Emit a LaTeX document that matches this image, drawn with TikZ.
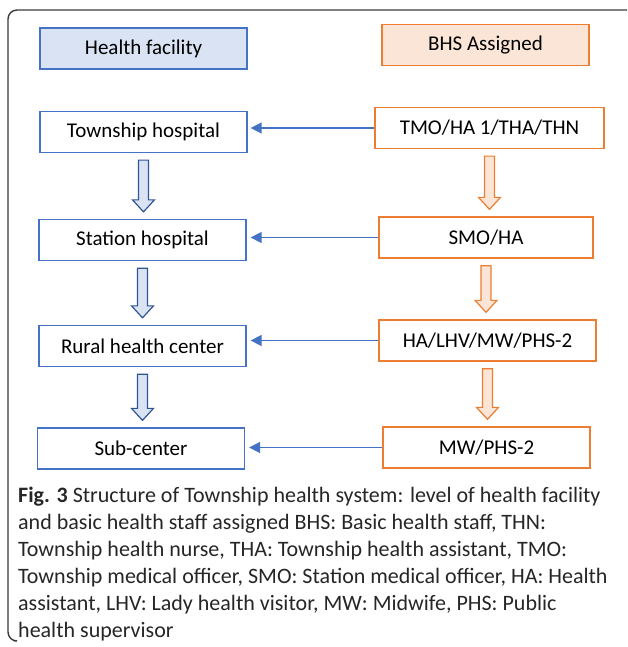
\documentclass[tikz,border=0pt]{standalone}
\usepackage{fontspec}
\setmainfont{Carlito}
\usetikzlibrary{calc,arrows.meta}

\definecolor{facblue}{HTML}{4472C4}
\definecolor{facfill}{HTML}{DAE3F3}
\definecolor{facdark}{HTML}{2F5597}
\definecolor{bhsorange}{HTML}{ED7D31}
\definecolor{bhsfill}{HTML}{FBE5D6}
\definecolor{framegray}{HTML}{3A3A3A}

\tikzset{
  facbox/.style={draw=facblue, line width=1.3pt, minimum width=207pt, minimum height=41pt,
    inner sep=0pt, font=\fontsize{21}{23}\selectfont},
  bhsbox/.style={draw=bhsorange, line width=1.3pt, minimum height=41pt,
    inner sep=0pt, font=\fontsize{21}{23}\selectfont},
  link/.style={draw=facblue, line width=1.6pt, -{Triangle[length=11pt,width=11pt]}},
  facarrow/.style={draw=facdark, fill=facfill, line width=1.2pt, line join=miter},
  bhsarrow/.style={draw=bhsorange, fill=bhsfill, line width=1.2pt, line join=miter},
}

% hollow block arrow pointing down: #1 style, #2 upper node, #3 lower node
\newcommand{\blockdown}[3]{%
  \path let \p1=(#2.south), \p2=(#3.north) in
    [#1] (\x1-5pt,\y1-7pt) -- (\x1+5pt,\y1-7pt) -- (\x1+5pt,\y2+19pt)
      -- (\x1+11pt,\y2+19pt) -- (\x1,\y2+7pt) -- (\x1-11pt,\y2+19pt)
      -- (\x1-5pt,\y2+19pt) -- cycle;%
}

\begin{document}
\begin{tikzpicture}[x=1pt,y=-1pt]
\useasboundingbox (0,0) rectangle (627,647);

% open frame: top and left sides only
\draw[framegray, line width=1.4pt, rounded corners=9pt]
  (627,10) -- (8,10) -- (8,641) -- (14,641);

% column headers
\node[facbox, fill=facfill] (hf) at (143.5,48.5) {Health facility};
\node[bhsbox, fill=bhsfill, minimum width=207pt] (bhs) at (485.5,45) {BHS Assigned};

% health facility levels
\node[facbox] (th) at (143.5,132) {Township hospital};
\node[facbox] (sh) at (142.5,240) {Station hospital};
\node[facbox] (rhc) at (142.5,346) {Rural health center};
\node[facbox] (sc) at (141,448.5) {Sub-center};

% staff assigned
\node[bhsbox, minimum width=229pt] (tmo) at (489.5,128) {TMO/HA 1/THA/THN};
\node[bhsbox, minimum width=214pt] (smo) at (486,237.5) {SMO/HA};
\node[bhsbox, minimum width=217pt] (ha) at (487.5,340.5) {HA/LHV/MW/PHS-2};
\node[bhsbox, minimum width=207pt] (mw) at (486.5,447.5) {MW/PHS-2};

% staff to facility
\draw[link] (tmo.west) -- ([xshift=3pt]th.east |- tmo.west);
\draw[link] (smo.west) -- ([xshift=4pt]sh.east |- smo.west);
\draw[link] (ha.west) -- ([xshift=4pt]rhc.east |- ha.west);
\draw[link] (mw.west) -- ([xshift=4pt]sc.east |- mw.west);

% hierarchy arrows
\blockdown{facarrow}{th}{sh}
\blockdown{facarrow}{sh}{rhc}
\blockdown{facarrow}{rhc}{sc}
\blockdown{bhsarrow}{tmo}{smo}
\blockdown{bhsarrow}{smo}{ha}
\blockdown{bhsarrow}{ha}{mw}

% caption
\node[anchor=north west, align=left, inner sep=0pt,
      font=\fontsize{22}{27}\selectfont, text=black!85] (cap) at (18,487)
  {\textbf{Fig. 3} Structure of Township health system: level of health facility\\
   and basic health staff assigned BHS: Basic health staff, THN:\\
   Township health nurse, THA: Township health assistant, TMO:\\
   Township medical officer, SMO: Station medical officer, HA: Health\\
   assistant, LHV: Lady health visitor, MW: Midwife, PHS: Public\\
   health supervisor};
\end{tikzpicture}
\end{document}
